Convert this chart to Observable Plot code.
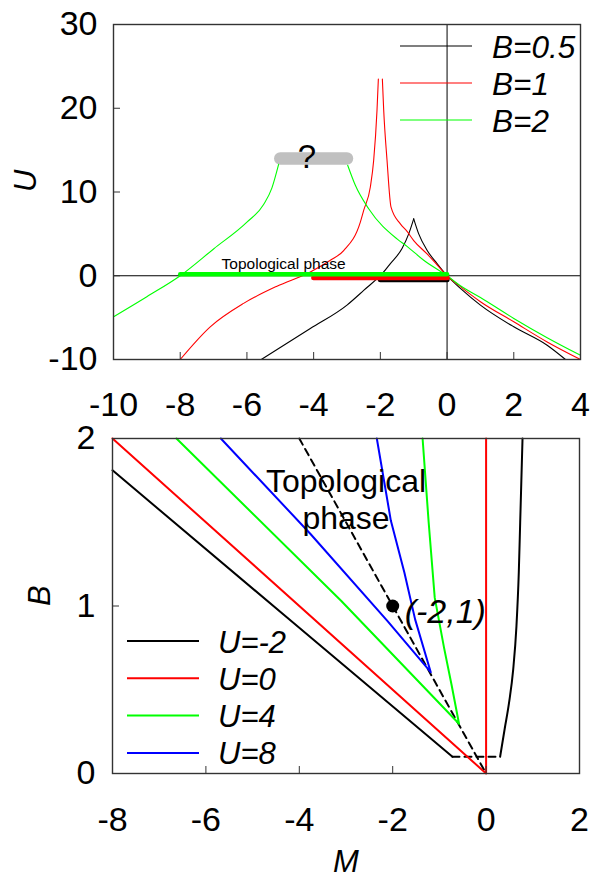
<!DOCTYPE html>
<html><head><meta charset="utf-8">
<script src="https://cdn.jsdelivr.net/npm/d3@7"></script>
<script src="https://cdn.jsdelivr.net/npm/@observablehq/plot@0.6"></script>
<style>
body{margin:0;background:#fff;}
#wrap{position:relative;width:590px;height:880px;font-family:"Liberation Sans",Arial,sans-serif;overflow:hidden;}
.panel{position:absolute;left:0;}
</style></head><body><div id="wrap"></div>
<script>
// ---------- tick values ----------
const topXTicks = [-10, -8, -6, -4, -2, 0, 2, 4];
const topYTicks = [-10, 0, 10, 20, 30];
const botXTicks = [-8, -6, -4, -2, 0, 2];
const botYTicks = [0, 1, 2];

// ---------- top panel: U versus M ----------
const topLabels = ["B=0.5", "B=1", "B=2"];
const topColors = ["#000000", "#ff0000", "#00ff00"];

const b05LeftM = [-5.57, -4.1, -3.0, -2.5, -1.9, -1.7, -1.35, -1.15, -1.0];
const b05LeftU = [-10, -6.3, -3.5, -1.75, 0.45, 1.45, 3.25, 5.0, 6.8];
const b05RightM = [-1.0, -0.85, -0.6, -0.3, 0, 0.4, 1.0, 2.0, 3.0, 3.55];
const b05RightU = [6.8, 5.0, 3.05, 1.45, 0, -1.5, -3.5, -6.1, -8.3, -10];

const b1LeftM = [-8, -7.1, -6.1, -5.1, -4.1, -3.5, -3.1, -2.6, -2.5, -2.3, -2.2, -2.1, -2.06];
const b1LeftU = [-10, -6.1, -3.3, -1.25, 0.45, 1.85, 3.0, 6.4, 7.8, 10.6, 13.8, 19.8, 23.5];
const b1RightM = [-1.94, -1.9, -1.8, -1.68, -1.4, -1.2, -1.0, -0.6, -0.3, 0, 0.4, 1, 2, 3, 4];
const b1RightU = [23.5, 19.8, 13.8, 8.2, 6.2, 5.3, 4.2, 2.6, 1.3, 0, -1.3, -3.1, -5.5, -7.9, -10];

const b2LeftM = [-10, -9, -8, -7, -6, -5.5, -5.25, -5.05];
const b2LeftU = [-4.9, -2.5, 0, 3.2, 6.4, 8.5, 10.5, 13.3];
const b2RightM = [-2.98, -2.75, -2.35, -1.5, -1.2, -0.7, 0, 0.4, 1, 2, 3, 4];
const b2RightU = [13.2, 10.8, 8.0, 4.4, 3.5, 1.85, 0, -1.2, -2.6, -5.1, -7.4, -9.5];

// topological-phase intervals on U = 0 (B=0.5, B=1, B=2)
const phaseFromM = [-2, -4, -8];
const phaseToM = [0, 0, 0];
const phaseU = 0;

// unknown region (grey bar) for B=2
const unknownM = [-5, -3];
const unknownU = 14;
const unknownMark = "?";
const unknownTextPos = [-4.2, 14.1];
const topPhaseText = "Topological phase";
const topPhaseTextPos = [-4.9, 1.45];

// ---------- bottom panel: B versus M ----------
const botLabels = ["U=-2", "U=0", "U=4", "U=8"];
const botColors = ["#000000", "#ff0000", "#00ff00", "#0000ff"];

const uM2LeftM = [-8, -4.3, -0.72];
const uM2LeftB = [1.81, 0.94, 0.1];
const uM2FlatM = [-0.72, 0.3];
const uM2FlatB = [0.1, 0.1];
const uM2RightM = [0.3, 0.4, 0.49, 0.58, 0.65, 0.7, 0.73, 0.78];
const uM2RightB = [0.1, 0.27, 0.42, 0.62, 0.88, 1.2, 1.5, 2];

const u0M = [-8, 0, 0];
const u0B = [2, 0, 2];

const u4M = [-6.63, -3.1, -0.58, -0.74, -0.9, -1.1, -1.23, -1.36];
const u4B = [2, 1.03, 0.297, 0.53, 0.75, 1.05, 1.5, 2];

const u8M = [-5.68, -3.76, -2.11, -1.185, -1.52, -1.75, -2.04, -2.34];
const u8B = [2, 1.43, 0.91, 0.605, 0.92, 1.2, 1.51, 2];

const boundaryM = [-4, 0];
const boundaryB = [2, 0];

const pointM = [-2];
const pointB = [1];
const pointLabel = ["(-2,1)"];
const botPhaseText = "Topological\nphase";
const botPhaseTextPos = [-3.0, 1.64];

// ---------- helpers ----------
const FONT = "Liberation Sans, Arial, Helvetica, sans-serif";
const TICK_FS = 34;
const rows = (M, V) => M.map((m, i) => ({x: m, y: V[i]}));
const fmt = d => String(d);
const wrap = document.getElementById("wrap");

function place(node, top) {
  node.classList.add("panel");
  node.style.top = top + "px";
  wrap.appendChild(node);
}

function legend(items, colors, o) {
  const svg = d3.create("svg")
    .attr("width", 590).attr("height", 880)
    .style("position", "absolute").style("left", "0px").style("top", "0px")
    .style("pointer-events", "none");
  items.forEach((t, i) => {
    const y = o.top + i * o.step;
    svg.append("line").attr("x1", o.x1).attr("x2", o.x2).attr("y1", y).attr("y2", y)
      .attr("stroke", colors[i]).attr("stroke-width", o.sw);
    svg.append("text").attr("x", o.tx).attr("y", y + 11.5)
      .attr("font-family", FONT).attr("font-size", o.fs).attr("font-style", "italic")
      .attr("fill", "#000").text(t);
  });
  wrap.appendChild(svg.node());
}

const topLine = (M, U, c) => Plot.line(rows(M, U), {x: "x", y: "y", stroke: c, strokeWidth: 1.1, curve: "monotone-x"});

// ---------- top plot ----------
const topPlot = Plot.plot({
  width: 590, height: 420,
  marginTop: 24, marginBottom: 61, marginLeft: 113, marginRight: 10,
  style: {fontFamily: FONT, fontSize: TICK_FS + "px", color: "#000", background: "#fff", overflow: "visible"},
  x: {domain: [-10, 4]},
  y: {domain: [-10, 30]},
  marks: [
    Plot.ruleY([0], {stroke: "#000", strokeWidth: 1}),
    Plot.ruleX([0], {stroke: "#000", strokeWidth: 1}),
    Plot.line(rows(unknownM, [unknownU, unknownU]), {x: "x", y: "y", stroke: "#c0c0c0", strokeWidth: 12.5, strokeLinecap: "round"}),
    topLine(b05LeftM, b05LeftU, topColors[0]),
    topLine(b05RightM, b05RightU, topColors[0]),
    topLine(b1LeftM, b1LeftU, topColors[1]),
    topLine(b1RightM, b1RightU, topColors[1]),
    topLine(b2LeftM, b2LeftU, topColors[2]),
    topLine(b2RightM, b2RightU, topColors[2]),
    Plot.link([0], {x1: () => phaseFromM[0], x2: () => phaseToM[0], y1: () => phaseU, y2: () => phaseU, stroke: topColors[0], strokeWidth: 5, strokeLinecap: "round", dy: 4}),
    Plot.link([0], {x1: () => phaseFromM[1], x2: () => phaseToM[1], y1: () => phaseU, y2: () => phaseU, stroke: topColors[1], strokeWidth: 5, strokeLinecap: "round", dy: 2}),
    Plot.link([0], {x1: () => phaseFromM[2], x2: () => phaseToM[2], y1: () => phaseU, y2: () => phaseU, stroke: topColors[2], strokeWidth: 4.5, strokeLinecap: "round", dy: -1.5}),
    Plot.text([topPhaseText], {x: () => topPhaseTextPos[0], y: () => topPhaseTextPos[1], text: d => d, fontSize: 15.5, fill: "#000"}),
    Plot.text([unknownMark], {x: () => unknownTextPos[0], y: () => unknownTextPos[1], text: d => d, fontSize: 33, fill: "#000"}),
    Plot.frame({stroke: "#333", strokeWidth: 1.4}),
    Plot.axisX({ticks: topXTicks, tickFormat: fmt, tickSize: -7, tickPadding: 39, label: null, stroke: "#333"}),
    Plot.axisY({ticks: topYTicks, tickFormat: fmt, tickSize: -7, tickPadding: 23, label: null, stroke: "#333"}),
    Plot.text(["U"], {frameAnchor: "left", dx: -87, rotate: -90, fontStyle: "italic", fontSize: 31, text: d => d})
  ]
});
place(topPlot, 0);

// ---------- bottom plot ----------
const botPlot = Plot.plot({
  width: 590, height: 460,
  marginTop: 18, marginBottom: 107, marginLeft: 112, marginRight: 11,
  style: {fontFamily: FONT, fontSize: TICK_FS + "px", color: "#000", background: "#fff", overflow: "visible"},
  x: {domain: [-8, 2]},
  y: {domain: [0, 2]},
  marks: [
    Plot.line(rows(boundaryM, boundaryB), {x: "x", y: "y", stroke: "#000", strokeWidth: 2, strokeDasharray: "7,5"}),
    Plot.line(rows(uM2LeftM, uM2LeftB), {x: "x", y: "y", stroke: botColors[0], strokeWidth: 2}),
    Plot.line(rows(uM2FlatM, uM2FlatB), {x: "x", y: "y", stroke: botColors[0], strokeWidth: 2, strokeDasharray: "7,5"}),
    Plot.line(rows(uM2RightM, uM2RightB), {x: "x", y: "y", stroke: botColors[0], strokeWidth: 2, curve: "monotone-x"}),
    Plot.line(rows(u0M, u0B), {x: "x", y: "y", stroke: botColors[1], strokeWidth: 2}),
    Plot.line(rows(u4M, u4B), {x: "x", y: "y", stroke: botColors[2], strokeWidth: 2}),
    Plot.line(rows(u8M, u8B), {x: "x", y: "y", stroke: botColors[3], strokeWidth: 2}),
    Plot.dot(rows(pointM, pointB), {x: "x", y: "y", r: 6.5, fill: "#000", stroke: null}),
    Plot.text(rows(pointM, pointB), {x: "x", y: "y", text: (d, i) => pointLabel[i], dx: 12, dy: 6, textAnchor: "start", fontStyle: "italic", fontSize: 34, fill: "#000"}),
    Plot.text([botPhaseText], {x: () => botPhaseTextPos[0], y: () => botPhaseTextPos[1], text: d => d, fontSize: 32, lineHeight: 1.15, fill: "#000"}),
    Plot.frame({stroke: "#333", strokeWidth: 1.4}),
    Plot.axisX({ticks: botXTicks, tickFormat: fmt, tickSize: -7, tickPadding: 40, label: null, stroke: "#333"}),
    Plot.axisY({ticks: botYTicks, tickFormat: fmt, tickSize: -7, tickPadding: 24, label: null, stroke: "#333"}),
    Plot.text(["B"], {frameAnchor: "left", dx: -72, rotate: -90, fontStyle: "italic", fontSize: 31, text: d => d}),
    Plot.text(["M"], {frameAnchor: "bottom", dy: 98, fontStyle: "italic", fontSize: 31, text: d => d})
  ]
});
place(botPlot, 420);

// ---------- legends ----------
legend(topLabels, topColors, {x1: 400, x2: 472, tx: 492, top: 46, step: 37, sw: 1.1, fs: 31.5});
legend(botLabels, botColors, {x1: 127, x2: 199, tx: 218, top: 641, step: 37.3, sw: 2, fs: 31});
</script></body></html>
